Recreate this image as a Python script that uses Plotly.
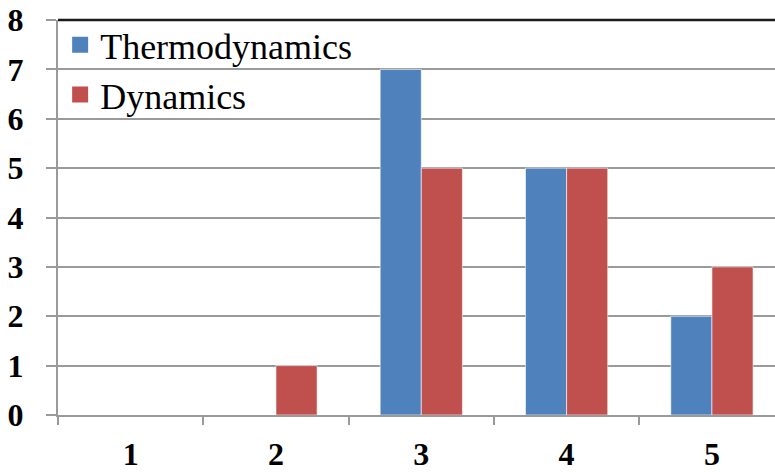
import plotly.graph_objects as go

categories = ["1", "2", "3", "4", "5"]
thermodynamics = [0, 0, 7, 5, 2]
dynamics = [0, 1, 5, 5, 3]
y_ticks = [0, 1, 2, 3, 4, 5, 6, 7, 8]

BLUE = "#4F81BD"
RED = "#C0504D"
GRID = "#9A9A9A"
FONT = "Liberation Serif"

fig = go.Figure()
fig.add_trace(go.Bar(x=categories, y=thermodynamics, name="Thermodynamics",
                     marker=dict(color=BLUE, line=dict(color="rgba(255,255,255,0.6)", width=1)),
                     showlegend=False))
fig.add_trace(go.Bar(x=categories, y=dynamics, name="Dynamics",
                     marker=dict(color=RED, line=dict(color="rgba(255,255,255,0.6)", width=1)),
                     showlegend=False))
# legend entries with larger square symbols
fig.add_trace(go.Scatter(x=[None], y=[None], mode="markers", name="Thermodynamics",
                         marker=dict(symbol="square", color=BLUE, size=16)))
fig.add_trace(go.Scatter(x=[None], y=[None], mode="markers", name="Dynamics",
                         marker=dict(symbol="square", color=RED, size=16)))

fig.update_layout(
    width=775, height=472,
    margin=dict(l=58, r=0, t=20, b=52),
    paper_bgcolor="white", plot_bgcolor="white",
    barmode="group", bargap=0.434, bargroupgap=0,
    font=dict(family=FONT, color="black"),
    legend=dict(x=0.003, y=1.013, xanchor="left", yanchor="top",
                bgcolor="rgba(255,255,255,0)", font=dict(family=FONT, size=36, color="black"),
                itemsizing="trace", tracegroupgap=0),
    xaxis=dict(type="category", range=[-0.5, 4.434], tickson="boundaries",
               ticks="outside", ticklen=8, tickwidth=2, tickcolor=GRID,
               showline=True, linecolor=GRID, linewidth=2, showgrid=False,
               tickfont=dict(family=FONT, size=32, color="black", weight="bold"),
               ticklabelstandoff=10, fixedrange=True),
    yaxis=dict(range=[0, 8], tickvals=y_ticks, ticks="outside", ticklen=10, tickwidth=2,
               tickcolor=GRID, showline=True, linecolor=GRID, linewidth=2,
               showgrid=True, gridcolor=GRID, gridwidth=2, zeroline=False,
               tickfont=dict(family=FONT, size=32, color="black", weight="bold"),
               ticklabelstandoff=16, fixedrange=True),
    shapes=[dict(type="line", xref="paper", yref="paper", x0=0, x1=1, y0=1, y1=1,
                 line=dict(color="#1a1a1a", width=2.5))],
)

fig.write_html("out.html", config={"displayModeBar": False},
               post_script="document.body.style.margin='0';document.body.style.padding='0';")
